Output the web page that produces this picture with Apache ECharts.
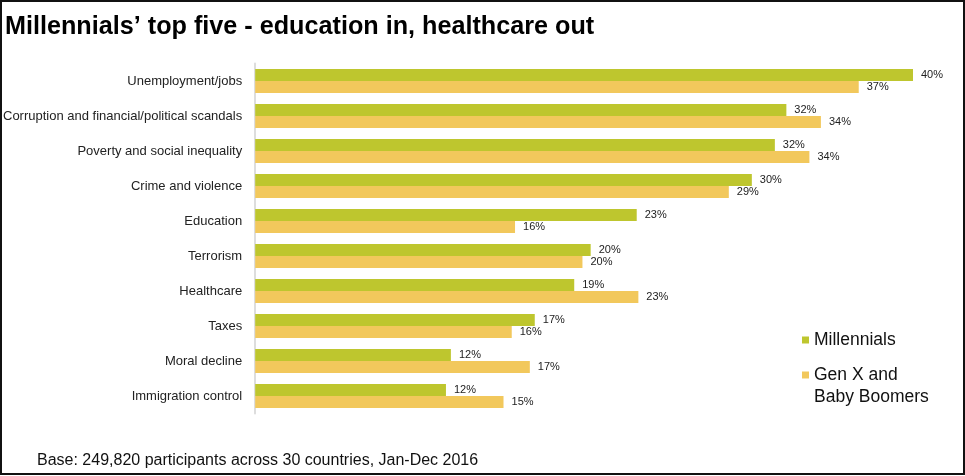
<!DOCTYPE html>
<html>
<head>
<meta charset="utf-8">
<script src="https://cdn.jsdelivr.net/npm/echarts@6/dist/echarts.min.js"></script>
<style>
  html, body { margin: 0; padding: 0; background: #fff; }
  #chart { width: 965px; height: 476px; }
</style>
</head>
<body>
<div id="chart"></div>
<script>
const categories = [
  'Unemployment/jobs',
  'Corruption and financial/political scandals',
  'Poverty and social inequality',
  'Crime and violence',
  'Education',
  'Terrorism',
  'Healthcare',
  'Taxes',
  'Moral decline',
  'Immigration control',
];
// values, labels show the rounded figure
const millennials = [40, 32.3, 31.6, 30.2, 23.2, 20.4, 19.4, 17.0, 11.9, 11.6];
const genXBoomers = [36.7, 34.4, 33.7, 28.8, 15.8, 19.9, 23.3, 15.6, 16.7, 15.1];

const GREEN = '#bec62e';
const YELLOW = '#f2c85c';
const FONT = '"Liberation Sans", Arial, sans-serif';

const chart = echarts.init(document.getElementById('chart'));

const valueLabel = {
  show: true,
  position: 'right',
  distance: 8,
  color: '#222',
  fontSize: 11,
  fontFamily: FONT,
  formatter: (p) => Math.round(p.value) + '%',
};

const legendBase = {
  orient: 'vertical',
  left: 802,
  padding: 0,
  icon: 'rect',
  itemWidth: 7,
  itemHeight: 7,
  textStyle: { fontSize: 17.5, lineHeight: 22, color: '#111', fontFamily: FONT },
};

chart.setOption({
  animation: false,
  textStyle: { fontFamily: FONT },
  title: {
    text: 'Millennials’ top five - education in, healthcare out',
    left: 5,
    top: 15,
    padding: 0,
    textStyle: { fontSize: 25.2, fontWeight: 'bold', color: '#000', fontFamily: FONT },
  },
  legend: [
    { ...legendBase, data: ['Millennials'], top: 329 },
    {
      ...legendBase,
      data: ['Gen X and Baby Boomers'],
      top: 342,
      // empty first line keeps the marker level with "Gen X and"
      formatter: () => '\nGen X and\nBaby Boomers',
    },
  ],
  grid: { left: 255, right: 52, top: 63.5, bottom: 62.5, containLabel: false },
  xAxis: { type: 'value', min: 0, max: 40, show: false },
  yAxis: {
    type: 'category',
    data: categories,
    inverse: true,
    axisTick: { show: false },
    axisLine: { lineStyle: { color: '#dddddd', width: 2 } },
    axisLabel: { margin: 13, fontSize: 13, color: '#222', fontFamily: FONT },
  },
  series: [
    {
      name: 'Millennials',
      type: 'bar',
      data: millennials,
      barWidth: 12,
      barGap: '0%',
      itemStyle: { color: GREEN },
      label: valueLabel,
    },
    {
      name: 'Gen X and Baby Boomers',
      type: 'bar',
      data: genXBoomers,
      barWidth: 12,
      barGap: '0%',
      itemStyle: { color: YELLOW },
      label: valueLabel,
    },
  ],
  graphic: [
    {
      type: 'text',
      left: 37,
      top: 453,
      style: {
        text: 'Base: 249,820 participants across 30 countries, Jan-Dec 2016',
        fontSize: 16,
        fill: '#111',
        fontFamily: FONT,
      },
    },
    {
      type: 'rect',
      shape: { x: 1, y: 1, width: 963, height: 473 },
      style: { fill: 'none', stroke: '#111', lineWidth: 2 },
      silent: true,
    },
  ],
});
</script>
</body>
</html>
